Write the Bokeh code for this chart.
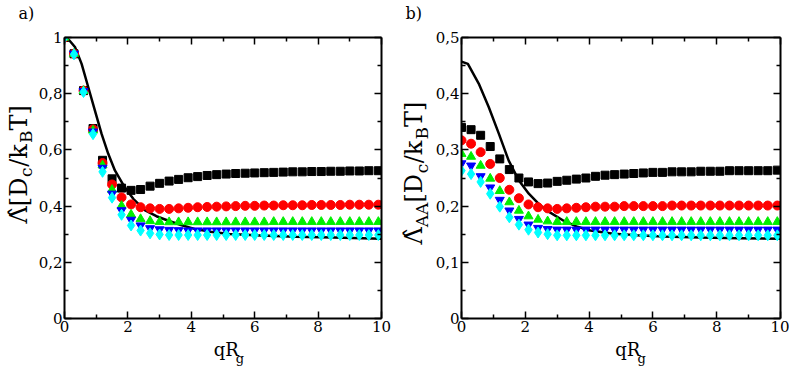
import math
from bokeh.plotting import figure
from bokeh.layouts import row, column
from bokeh.models import LinearAxis, FixedTicker, Range1d
from bokeh.core.properties import value
from bokeh.embed import file_html
from bokeh.resources import INLINE

# ---------------- data ----------------
qRg = [0.0, 0.3, 0.6, 0.9, 1.2, 1.5, 1.8, 2.1, 2.4, 2.7, 3.0, 3.3, 3.6, 3.9, 4.2, 4.5, 4.8,
       5.1, 5.4, 5.7, 6.0, 6.3, 6.6, 6.9, 7.2, 7.5, 7.8, 8.1, 8.4, 8.7, 9.0, 9.3, 9.6, 9.9]

# panel a) : Lambda-hat
a_black = [1.000, 0.942, 0.811, 0.676, 0.563, 0.497, 0.464, 0.456, 0.459, 0.471, 0.481, 0.489,
           0.495, 0.501, 0.505, 0.509, 0.512, 0.514, 0.516, 0.517, 0.518, 0.519, 0.520, 0.521,
           0.522, 0.522, 0.523, 0.523, 0.524, 0.524, 0.525, 0.525, 0.526, 0.526]
a_red = [1.000, 0.942, 0.811, 0.673, 0.553, 0.477, 0.431, 0.406, 0.396, 0.392, 0.390, 0.390,
         0.392, 0.394, 0.396, 0.397, 0.398, 0.399, 0.400, 0.401, 0.401, 0.402, 0.402, 0.403,
         0.403, 0.403, 0.404, 0.404, 0.404, 0.404, 0.405, 0.405, 0.405, 0.405]
a_green = [1.000, 0.942, 0.810, 0.669, 0.545, 0.458, 0.401, 0.370, 0.354, 0.347, 0.344, 0.343,
           0.343, 0.343, 0.343, 0.343, 0.343, 0.343, 0.343, 0.343, 0.343, 0.343, 0.344, 0.344,
           0.344, 0.344, 0.344, 0.344, 0.344, 0.344, 0.344, 0.344, 0.344, 0.344]
a_blue = [1.000, 0.942, 0.809, 0.665, 0.536, 0.444, 0.385, 0.351, 0.331, 0.321, 0.317, 0.315,
          0.314, 0.313, 0.313, 0.313, 0.313, 0.313, 0.313, 0.313, 0.313, 0.313, 0.313, 0.313,
          0.313, 0.313, 0.313, 0.313, 0.313, 0.313, 0.313, 0.313, 0.313, 0.313]
a_cyan = [1.000, 0.940, 0.806, 0.656, 0.522, 0.430, 0.369, 0.331, 0.313, 0.303, 0.299, 0.297,
          0.297, 0.297, 0.297, 0.297, 0.297, 0.297, 0.297, 0.297, 0.297, 0.297, 0.297, 0.297,
          0.297, 0.297, 0.297, 0.297, 0.297, 0.297, 0.297, 0.297, 0.297, 0.297]
a_theory_x = [0.0, 0.15, 0.33, 0.54, 0.75, 0.96, 1.17, 1.38, 1.59, 1.9, 2.17, 2.53, 2.9, 3.3,
              3.7, 4.1, 4.6, 5.2, 6.2, 7.3, 8.5, 10.0]
a_theory_y = [1.000, 0.990, 0.966, 0.906, 0.823, 0.740, 0.657, 0.586, 0.527, 0.467, 0.426, 0.386,
              0.364, 0.347, 0.332, 0.319, 0.309, 0.301, 0.295, 0.291, 0.288, 0.284]

# panel b) : Lambda-hat_AA
b_black = [0.340, 0.336, 0.326, 0.306, 0.284, 0.265, 0.250, 0.243, 0.240, 0.241, 0.244, 0.246,
           0.248, 0.250, 0.253, 0.255, 0.256, 0.257, 0.258, 0.259, 0.260, 0.260, 0.261, 0.261,
           0.261, 0.262, 0.262, 0.262, 0.263, 0.263, 0.263, 0.263, 0.263, 0.264]
b_red = [0.317, 0.311, 0.296, 0.275, 0.250, 0.229, 0.214, 0.203, 0.198, 0.196, 0.195, 0.196,
         0.197, 0.198, 0.199, 0.199, 0.199, 0.200, 0.200, 0.200, 0.200, 0.200, 0.201, 0.201,
         0.201, 0.201, 0.201, 0.201, 0.201, 0.201, 0.201, 0.201, 0.201, 0.201]
b_green = [0.293, 0.288, 0.272, 0.249, 0.227, 0.207, 0.192, 0.182, 0.176, 0.173, 0.172, 0.172,
           0.172, 0.172, 0.172, 0.172, 0.172, 0.172, 0.172, 0.172, 0.172, 0.172, 0.172, 0.172,
           0.172, 0.172, 0.172, 0.172, 0.172, 0.172, 0.172, 0.172, 0.172, 0.172]
b_blue = [0.276, 0.272, 0.253, 0.233, 0.211, 0.192, 0.177, 0.167, 0.161, 0.159, 0.158, 0.158,
          0.158, 0.158, 0.158, 0.158, 0.158, 0.158, 0.158, 0.158, 0.158, 0.158, 0.158, 0.158,
          0.158, 0.158, 0.158, 0.158, 0.158, 0.158, 0.158, 0.158, 0.158, 0.158]
b_cyan = [0.263, 0.257, 0.243, 0.222, 0.199, 0.180, 0.167, 0.158, 0.153, 0.150, 0.148, 0.148,
          0.148, 0.148, 0.148, 0.148, 0.148, 0.148, 0.148, 0.148, 0.148, 0.148, 0.148, 0.148,
          0.148, 0.148, 0.148, 0.148, 0.148, 0.148, 0.148, 0.148, 0.148, 0.148]
b_theory_x = [0.0, 0.2, 0.54, 0.856, 1.17, 1.48, 1.8, 2.11, 2.42, 2.68, 3.2, 3.6, 4.04, 4.76,
              5.5, 6.32, 7.5, 8.7, 10.0]
b_theory_y = [0.457, 0.453, 0.418, 0.376, 0.329, 0.281, 0.2456, 0.222, 0.204, 0.192, 0.174,
              0.164, 0.1566, 0.1507, 0.148, 0.1459, 0.144, 0.143, 0.1418]

x_ticks = [0, 2, 4, 6, 8, 10]
x_minor = [1, 3, 5, 7, 9]
x_labels = ["0", "2", "4", "6", "8", "10"]
a_yticks = [0, 0.2, 0.4, 0.6, 0.8, 1.0]
a_yminor = [0.1, 0.3, 0.5, 0.7, 0.9]
a_ylabels = ["0", "0,2", "0,4", "0,6", "0,8", "1"]
b_yticks = [0, 0.1, 0.2, 0.3, 0.4, 0.5]
b_yminor = [0.05, 0.15, 0.25, 0.35, 0.45]
b_ylabels = ["0", "0,1", "0,2", "0,3", "0,4", "0,5"]

FONT = "DejaVu Serif"
H_PLOT = 340          # height of each panel figure
H_TOTAL = 367
FRAME_W, FRAME_H = 319, 281
TOP = 37


def style_axis(ax, ticks, minor, labels, show):
    ax.ticker = FixedTicker(ticks=ticks, minor_ticks=minor)
    if show:
        ax.major_label_overrides = {t: l for t, l in zip(ticks, labels)}
        ax.major_label_text_font_size = "15px"
    else:
        ax.major_label_overrides = {t: "" for t in ticks}
        ax.major_label_text_font_size = "0px"
    ax.axis_line_width = 2
    ax.axis_line_color = "black"
    ax.major_tick_in = 7
    ax.major_tick_out = 0
    ax.minor_tick_in = 4
    ax.minor_tick_out = 0
    ax.major_tick_line_width = 1.5
    ax.minor_tick_line_width = 1.5
    ax.major_tick_line_color = "black"
    ax.minor_tick_line_color = "black"
    ax.major_label_text_font = FONT
    ax.major_label_text_color = "black"


def make_panel(width, bl, ymax, yticks, yminor, ylabels, series, tx, ty):
    br = width - bl - FRAME_W
    p = figure(width=width, height=H_PLOT, x_range=Range1d(0, 10), y_range=Range1d(0, ymax),
               output_backend="svg", toolbar_location=None,
               min_border_left=bl, min_border_right=br, min_border_top=TOP,
               min_border_bottom=H_PLOT - TOP - FRAME_H)
    p.outline_line_color = None
    p.grid.visible = False
    p.background_fill_color = "white"
    p.border_fill_color = "white"
    style_axis(p.xaxis[0], x_ticks, x_minor, x_labels, True)
    style_axis(p.yaxis[0], yticks, yminor, ylabels, True)
    p.xaxis[0].major_label_standoff = 2
    p.yaxis[0].major_label_standoff = 2
    top = LinearAxis()
    right = LinearAxis()
    style_axis(top, x_ticks, x_minor, x_labels, False)
    style_axis(right, yticks, yminor, ylabels, False)
    p.add_layout(top, "above")
    p.add_layout(right, "right")

    p.line(tx, ty, line_color="black", line_width=2.5)
    black, red, green, blue, cyan = series
    p.scatter(qRg, black, marker="square", size=8, fill_color="black", line_color="black")
    p.scatter(qRg, red, marker="circle", size=9, fill_color="#ff0000", line_color="#ff0000")
    p.scatter(qRg, green, marker="triangle", size=9, fill_color="#00ee00", line_color="#00ee00")
    p.scatter(qRg, blue, marker="inverted_triangle", size=9, fill_color="#0000ff", line_color="#0000ff")
    p.scatter(qRg, cyan, marker="diamond", size=11, fill_color="#00ffff", line_color="#00ffff")
    return p


def strip(width, height):
    """An empty figure whose frame fills it; its data units are pixels (y from the bottom)."""
    s = figure(width=width, height=height, x_range=Range1d(0, width), y_range=Range1d(0, height),
               output_backend="svg", toolbar_location=None, x_axis_location=None,
               y_axis_location=None, min_border=0)
    s.outline_line_color = None
    s.grid.visible = False
    s.background_fill_color = "white"
    s.border_fill_color = "white"
    return s


MID = 0.346   # em distance from the alphabetic baseline up to the middle of the em box


def put(s, x, y_base, text, size, angle=0.0):
    """Place text with its alphabetic baseline at a pixel position of the strip
    (y_base counted from the strip's top). Vertical text: x is the baseline column."""
    top = s.y_range.end
    if angle == 0.0:
        xx, yy = x, top - (y_base - MID * size)
    else:
        xx, yy = x - MID * size, top - y_base
    s.text(x=[xx], y=[yy], text=[text], angle=angle, text_font=value(FONT),
           text_font_size=value(f"{size}px"), text_color="black",
           text_align=value("left"), text_baseline=value("middle"))


MAIN, SUB = 24, 17
EM = {"Λ̂": 0.722, "[D": 1.22, "c": 0.592, "/k": 0.993, "B": 0.735, "T]": 1.108, "AA": 1.444}
UP = math.pi / 2

YA_W = 35
YB_X = 396
YB_W = 36

# ---- panel a ----
pa = make_panel(YB_X - YA_W, 62 - YA_W, 1.0, a_yticks, a_yminor, a_ylabels,
                (a_black, a_red, a_green, a_blue, a_cyan), a_theory_x, a_theory_y)
ya = strip(YA_W, H_TOTAL)
put(ya, 18, 18.5, "a)", 16)
py = 223.0
for t, sz in [("Λ̂", MAIN), ("[D", MAIN), ("c", SUB), ("/k", MAIN), ("B", SUB), ("T]", MAIN)]:
    bx = 26.5 if sz == MAIN else 31.0
    put(ya, bx, py, t, sz, UP)
    py -= EM[t] * sz
xa = strip(YB_X - YA_W, H_TOTAL - H_PLOT)
put(xa, 205 - YA_W, 355 - H_PLOT, "qR", 18)
put(xa, 230 - YA_W, 362 - H_PLOT, "g", 13)

# ---- panel b ----
pb = make_panel(789 - YB_X - YB_W, 461 - YB_X - YB_W, 0.5, b_yticks, b_yminor, b_ylabels,
                (b_black, b_red, b_green, b_blue, b_cyan), b_theory_x, b_theory_y)
yb = strip(YB_W, H_TOTAL)
put(yb, 405 - YB_X, 18.5, "b)", 16)
py = 244.0
for t, sz in [("Λ̂", MAIN), ("AA", SUB), ("[D", MAIN), ("c", SUB), ("/k", MAIN), ("B", SUB), ("T]", MAIN)]:
    bx = (422.0 if sz == MAIN else 427.5) - YB_X
    put(yb, bx, py, t, sz, UP)
    py -= EM[t] * sz
xb = strip(789 - YB_X - YB_W, H_TOTAL - H_PLOT)
put(xb, 604 - YB_X - YB_W, 355 - H_PLOT, "qR", 18)
put(xb, 629 - YB_X - YB_W, 362 - H_PLOT, "g", 13)

layout = row(ya, column(pa, xa), yb, column(pb, xb))
open("out.html", "w").write(file_html(layout, INLINE))
